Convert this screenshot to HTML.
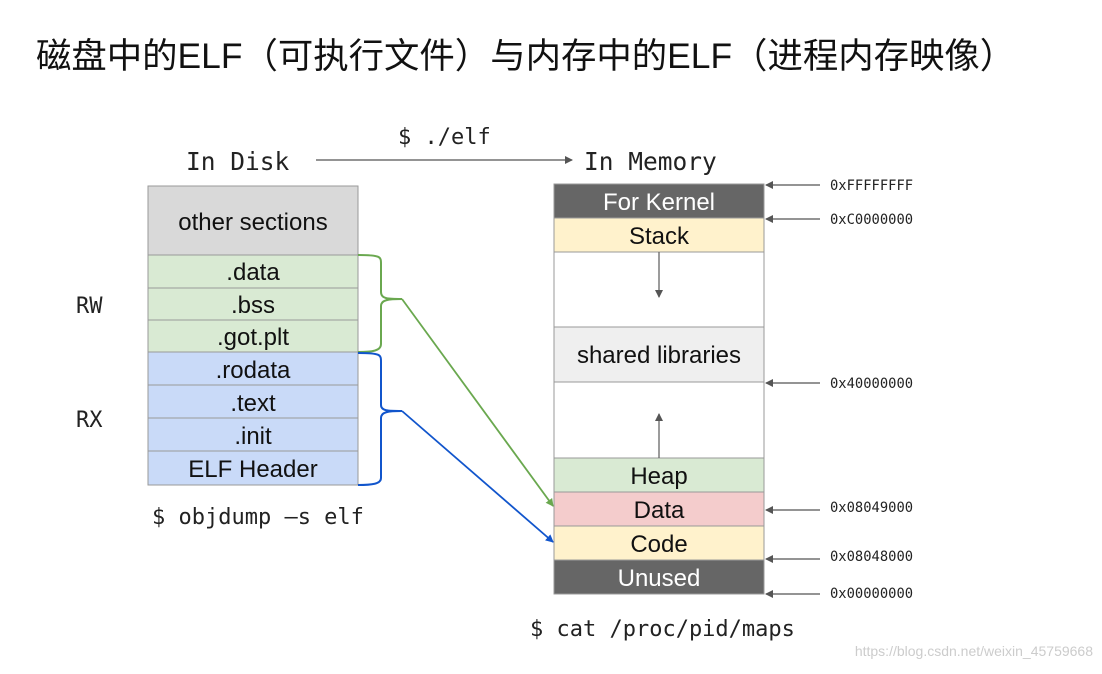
<!DOCTYPE html>
<html><head><meta charset="utf-8"><style>
body{margin:0;background:#fff;}
svg text{font-family:"Liberation Sans",sans-serif;}
.m{font-family:"DejaVu Sans Mono","Liberation Mono",monospace !important;}
</style></head><body>
<svg width="1102" height="669" viewBox="0 0 1102 669" xmlns="http://www.w3.org/2000/svg">
<defs>
<marker id="ag" markerWidth="8" markerHeight="8" refX="7" refY="4" orient="auto" markerUnits="userSpaceOnUse"><path d="M0,0 L8,4 L0,8 z" fill="#6aa84f"/></marker>
<marker id="ab" markerWidth="8" markerHeight="8" refX="7" refY="4" orient="auto" markerUnits="userSpaceOnUse"><path d="M0,0 L8,4 L0,8 z" fill="#1155cc"/></marker>
<marker id="ak" markerWidth="8" markerHeight="8" refX="7" refY="4" orient="auto" markerUnits="userSpaceOnUse"><path d="M0,0 L8,4 L0,8 z" fill="#555"/></marker>
</defs>
<text x="36" y="68" font-size="35.4" fill="#111" style="font-family:'Liberation Sans','Noto Sans CJK SC',sans-serif">磁盘中的ELF（可执行文件）与内存中的ELF（进程内存映像）</text>
<text class="m" x="186" y="170" font-size="24.5" fill="#222">In Disk</text>
<text class="m" x="584" y="170" font-size="24.5" fill="#222">In Memory</text>
<text class="m" x="398" y="144" font-size="22" fill="#222">$ ./elf</text>
<line x1="316" y1="160" x2="572" y2="160" stroke="#555" stroke-width="1.3" marker-end="url(#ak)"/>
<text class="m" x="76" y="313" font-size="22" fill="#222">RW</text>
<text class="m" x="76" y="427" font-size="22" fill="#222">RX</text>
<g stroke="#999" stroke-width="1">
<rect x="148" y="186" width="210" height="69" fill="#d9d9d9"/>
<rect x="148" y="255" width="210" height="33" fill="#d9ead3"/>
<rect x="148" y="288" width="210" height="32" fill="#d9ead3"/>
<rect x="148" y="320" width="210" height="32" fill="#d9ead3"/>
<rect x="148" y="352" width="210" height="33" fill="#c9daf8"/>
<rect x="148" y="385" width="210" height="33" fill="#c9daf8"/>
<rect x="148" y="418" width="210" height="33" fill="#c9daf8"/>
<rect x="148" y="451" width="210" height="34" fill="#c9daf8"/>
</g>
<g font-size="24" fill="#111" text-anchor="middle">
<text x="253" y="230">other sections</text>
<text x="253" y="280">.data</text>
<text x="253" y="313">.bss</text>
<text x="253" y="345">.got.plt</text>
<text x="253" y="378">.rodata</text>
<text x="253" y="411">.text</text>
<text x="253" y="444">.init</text>
<text x="253" y="477">ELF Header</text>
</g>
<text class="m" x="152" y="524" font-size="22" fill="#222">$ objdump –s elf</text>
<path d="M358,255 C382,255 381,257 381,265 L381,292 C381,299 388,299 402,299 C388,299 381,300 381,306 L381,344 C381,351 372,352 358,352" fill="none" stroke="#6aa84f" stroke-width="2"/>
<path d="M358,353 C382,353 381,355 381,363 L381,405 C381,411 388,411 402,411 C388,411 381,412 381,418 L381,478 C381,484 372,485 358,485" fill="none" stroke="#1155cc" stroke-width="2"/>
<line x1="402" y1="299" x2="553" y2="506" stroke="#6aa84f" stroke-width="1.8" marker-end="url(#ag)"/>
<line x1="402" y1="411" x2="553" y2="542" stroke="#1155cc" stroke-width="1.8" marker-end="url(#ab)"/>
<g stroke="#999" stroke-width="1">
<rect x="554" y="184" width="210" height="34" fill="#666"/>
<rect x="554" y="218" width="210" height="34" fill="#fff2cc"/>
<rect x="554" y="252" width="210" height="75" fill="#fff"/>
<rect x="554" y="327" width="210" height="55" fill="#efefef"/>
<rect x="554" y="382" width="210" height="76" fill="#fff"/>
<rect x="554" y="458" width="210" height="34" fill="#d9ead3"/>
<rect x="554" y="492" width="210" height="34" fill="#f4cccc"/>
<rect x="554" y="526" width="210" height="34" fill="#fff2cc"/>
<rect x="554" y="560" width="210" height="34" fill="#666"/>
</g>
<g font-size="24" text-anchor="middle" fill="#111">
<text x="659" y="210" fill="#fff">For Kernel</text>
<text x="659" y="244">Stack</text>
<text x="659" y="363">shared libraries</text>
<text x="659" y="484">Heap</text>
<text x="659" y="518">Data</text>
<text x="659" y="552">Code</text>
<text x="659" y="586" fill="#fff">Unused</text>
</g>
<line x1="659" y1="252" x2="659" y2="297" stroke="#666" stroke-width="1.3" marker-end="url(#ak)"/>
<line x1="659" y1="458" x2="659" y2="414" stroke="#666" stroke-width="1.3" marker-end="url(#ak)"/>
<g stroke="#555" stroke-width="1.2">
<line x1="820" y1="185" x2="766" y2="185" marker-end="url(#ak)"/>
<line x1="820" y1="219" x2="766" y2="219" marker-end="url(#ak)"/>
<line x1="820" y1="383" x2="766" y2="383" marker-end="url(#ak)"/>
<line x1="820" y1="510" x2="766" y2="510" marker-end="url(#ak)"/>
<line x1="820" y1="559" x2="766" y2="559" marker-end="url(#ak)"/>
<line x1="820" y1="594" x2="766" y2="594" marker-end="url(#ak)"/>
</g>
<g font-size="13.8" fill="#222">
<text class="m" x="830" y="190">0xFFFFFFFF</text>
<text class="m" x="830" y="224">0xC0000000</text>
<text class="m" x="830" y="388">0x40000000</text>
<text class="m" x="830" y="512">0x08049000</text>
<text class="m" x="830" y="561">0x08048000</text>
<text class="m" x="830" y="598">0x00000000</text>
</g>
<text class="m" x="530" y="636" font-size="22" fill="#222">$ cat /proc/pid/maps</text>
<text x="1093" y="656" font-size="14" fill="#ccc" text-anchor="end">https://blog.csdn.net/weixin_45759668</text>
</svg>
</body></html>
